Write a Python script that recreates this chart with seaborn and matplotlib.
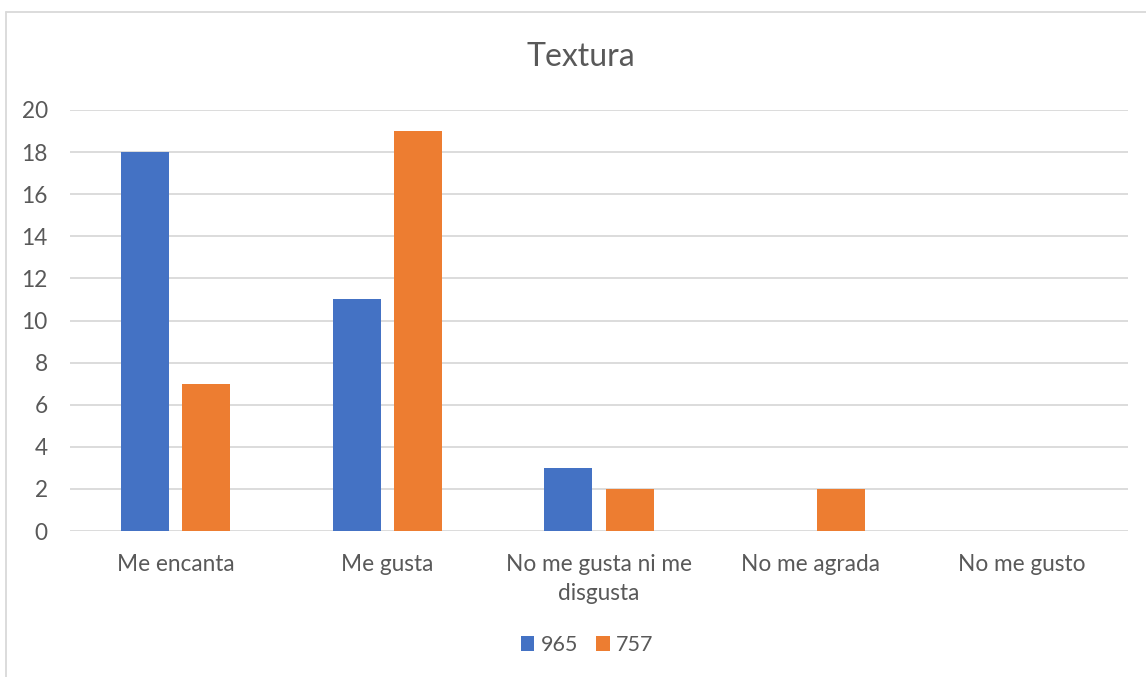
import numpy as np
import pandas as pd
import matplotlib
matplotlib.use("Agg")
import matplotlib.pyplot as plt
from matplotlib.lines import Line2D
from matplotlib.patches import Patch
import seaborn as sns

categories = ["Me encanta", "Me gusta", "No me gusta ni me\ndisgusta", "No me agrada", "No me gusto"]
series_names = ["965", "757"]
values_965 = [18, 11, 3, 0, 0]
values_757 = [7, 19, 2, 2, 0]
y_ticks = [0, 2, 4, 6, 8, 10, 12, 14, 16, 18, 20]

colors = {"965": "#4472C4", "757": "#ED7D31"}
text_color = "#595959"
grid_color = "#D9D9D9"

df = pd.DataFrame({
    "Respuesta": categories * 2,
    "Muestra": [series_names[0]] * len(categories) + [series_names[1]] * len(categories),
    "Valor": values_965 + values_757,
})

sns.set_theme(style="white")
plt.rcParams["font.family"] = ["Lato", "DejaVu Sans"]

W, H = 1146, 677
fig = plt.figure(figsize=(W / 100, H / 100), dpi=100)
ax = fig.add_axes([70 / W, 1 - 531 / H, (1128 - 70) / W, (531 - 110) / H])

sns.barplot(data=df, x="Respuesta", y="Valor", hue="Muestra", order=categories,
            hue_order=series_names, palette=colors, width=0.577, gap=0.213,
            saturation=1, legend=False, ax=ax, errorbar=None, linewidth=0)

ax.set_ylim(0, 20)
ax.set_xlim(-0.5, len(categories) - 0.5)
ax.set_yticks(y_ticks)
ax.set_yticklabels([str(t) for t in y_ticks])
ax.yaxis.grid(True, color=grid_color, linewidth=1.3)
ax.set_axisbelow(True)
for s in ax.spines.values():
    s.set_visible(False)
ax.tick_params(axis="both", length=0, labelsize=16.3, colors=text_color)
ax.tick_params(axis="y", pad=16)
ax.tick_params(axis="x", pad=16.5)
for lbl in ax.get_xticklabels():
    lbl.set_linespacing(1.45)
ax.set_xlabel("")
ax.set_ylabel("")

fig.text(581 / W, 1 - 57 / H, "Textura", ha="center", va="center",
         fontsize=23, color=text_color)

handles = [Patch(facecolor=colors[n], edgecolor="none") for n in series_names]
fig.legend(handles, series_names, loc="center", bbox_to_anchor=(587 / W, 1 - 645 / H),
           ncol=2, frameon=False, fontsize=15.5, labelcolor=text_color,
           handlelength=0.65, handleheight=0.65, handletextpad=0.3, columnspacing=0.8)

# chart area frame
fig.add_artist(Line2D([5.5 / W, 5.5 / W], [0, 1 - 11.5 / H], transform=fig.transFigure,
                      color=grid_color, linewidth=1.3))
fig.add_artist(Line2D([5.5 / W, 1], [1 - 11.5 / H, 1 - 11.5 / H], transform=fig.transFigure,
                      color=grid_color, linewidth=1.3))

fig.savefig("out.png", dpi=100, facecolor="white")
